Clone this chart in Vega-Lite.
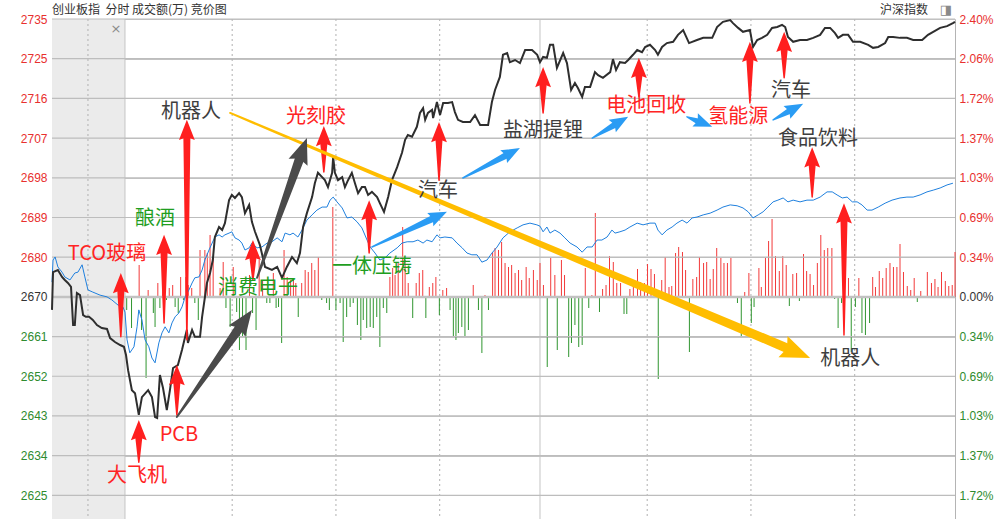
{
"$schema": "https://vega.github.io/schema/vega-lite/v6.json",
"width": 903, "height": 500,
"autosize": {"type": "none"},
"padding": {"left": 52, "top": 19, "right": 50, "bottom": 0},
"background": "#ffffff",
"config": {"view": {"stroke": null}},
"datasets": {
"grid": [{"lv":2624.75,"t":-21.1},{"lv":2624.75,"t":240},{"lv":2633.9,"t":-21.1},{"lv":2633.9,"t":240},{"lv":2643.05,"t":-21.1},{"lv":2643.05,"t":240},{"lv":2652.2,"t":-21.1},{"lv":2652.2,"t":240},{"lv":2661.35,"t":-21.1},{"lv":2661.35,"t":240},{"lv":2679.65,"t":-21.1},{"lv":2679.65,"t":240},{"lv":2688.8,"t":-21.1},{"lv":2688.8,"t":240},{"lv":2697.95,"t":-21.1},{"lv":2697.95,"t":240},{"lv":2707.1,"t":-21.1},{"lv":2707.1,"t":240},{"lv":2716.25,"t":-21.1},{"lv":2716.25,"t":240},{"lv":2725.4,"t":-21.1},{"lv":2725.4,"t":240},{"lv":2734.55,"t":-21.1},{"lv":2734.55,"t":240}],
"times": [{"t":-10.7},{"t":0},{"t":31},{"t":61},{"t":91},{"t":120},{"t":151},{"t":181},{"t":211}],
"black": [
{"t":-21.1,"p":2667.5},{"t":-20.8,"p":2676.2},{"t":-19.4,"p":2676.7},{"t":-18.2,"p":2675.1},{"t":-17.4,"p":2674.4},{"t":-16.5,"p":2673.7},{"t":-15.6,"p":2672.8},{"t":-15.0,"p":2664.0},{"t":-14.5,"p":2664.0},{"t":-13.9,"p":2671.4},{"t":-13.0,"p":2670.9},{"t":-12.1,"p":2666.3},{"t":-11.3,"p":2665.9},{"t":-10.4,"p":2665.9},{"t":-9.3,"p":2665.2},{"t":-8.1,"p":2664.0},{"t":-6.7,"p":2663.3},{"t":-5.2,"p":2663.1},{"t":-4.3,"p":2661.0},{"t":-2.9,"p":2660.1},{"t":-1.4,"p":2659.4},{"t":-0.3,"p":2659.0},{"t":0.3,"p":2657.1},{"t":0.9,"p":2653.6},{"t":2.0,"p":2649.0},{"t":2.9,"p":2648.3},{"t":4.0,"p":2643.3},{"t":4.9,"p":2647.4},{"t":6.7,"p":2649.0},{"t":7.8,"p":2647.4},{"t":8.7,"p":2642.8},{"t":9.3,"p":2642.6},{"t":10.1,"p":2652.5},{"t":11.0,"p":2649.5},{"t":12.1,"p":2644.4},{"t":13.0,"p":2649.0},{"t":13.9,"p":2654.1},{"t":15.3,"p":2654.8},{"t":16.5,"p":2658.3},{"t":17.4,"p":2661.3},{"t":17.9,"p":2662.9},{"t":18.2,"p":2659.9},{"t":19.4,"p":2662.9},{"t":20.2,"p":2661.3},{"t":21.7,"p":2661.3},{"t":22.3,"p":2665.9},{"t":23.7,"p":2673.7},{"t":24.6,"p":2676.0},{"t":25.4,"p":2679.0},{"t":26.0,"p":2684.3},{"t":27.2,"p":2686.6},{"t":28.1,"p":2685.9},{"t":28.9,"p":2687.5},{"t":30.1,"p":2692.8},{"t":30.9,"p":2694.0},{"t":31.8,"p":2693.3},{"t":33.0,"p":2694.4},{"t":33.8,"p":2693.5},{"t":34.7,"p":2689.8},{"t":35.9,"p":2691.7},{"t":36.7,"p":2687.8},{"t":37.6,"p":2685.5},{"t":39.0,"p":2682.5},{"t":40.5,"p":2677.4},{"t":42.5,"p":2676.7},{"t":44.0,"p":2677.4},{"t":45.4,"p":2674.9},{"t":46.8,"p":2677.4},{"t":48.3,"p":2679.7},{"t":49.7,"p":2678.3},{"t":50.6,"p":2680.6},{"t":51.5,"p":2686.6},{"t":52.6,"p":2689.8},{"t":54.1,"p":2693.5},{"t":54.9,"p":2696.7},{"t":55.8,"p":2699.1},{"t":57.0,"p":2698.1},{"t":57.8,"p":2697.4},{"t":58.7,"p":2695.8},{"t":59.9,"p":2699.1},{"t":60.2,"p":2702.7},{"t":60.7,"p":2699.1},{"t":61.6,"p":2697.4},{"t":62.8,"p":2698.1},{"t":63.6,"p":2695.8},{"t":64.5,"p":2697.4},{"t":65.6,"p":2699.1},{"t":66.5,"p":2696.7},{"t":67.4,"p":2694.4},{"t":68.5,"p":2695.8},{"t":69.4,"p":2695.8},{"t":70.3,"p":2694.0},{"t":71.4,"p":2694.7},{"t":72.9,"p":2693.5},{"t":73.7,"p":2692.1},{"t":74.9,"p":2690.1},{"t":76.1,"p":2693.5},{"t":77.2,"p":2697.4},{"t":78.7,"p":2700.4},{"t":80.1,"p":2703.7},{"t":81.0,"p":2706.7},{"t":81.8,"p":2707.8},{"t":83.0,"p":2707.4},{"t":84.4,"p":2709.7},{"t":85.3,"p":2712.9},{"t":86.2,"p":2714.0},{"t":86.8,"p":2711.3},{"t":87.6,"p":2712.9},{"t":88.8,"p":2713.6},{"t":89.1,"p":2711.7},{"t":90.2,"p":2715.4},{"t":91.1,"p":2712.4},{"t":92.0,"p":2715.2},{"t":93.4,"p":2715.2},{"t":94.6,"p":2715.4},{"t":95.4,"p":2713.1},{"t":96.3,"p":2711.3},{"t":97.7,"p":2710.8},{"t":99.8,"p":2710.8},{"t":101.2,"p":2712.4},{"t":102.7,"p":2710.1},{"t":105.0,"p":2710.1},{"t":106.1,"p":2715.4},{"t":107.0,"p":2718.2},{"t":108.4,"p":2721.2},{"t":109.3,"p":2726.3},{"t":110.5,"p":2726.7},{"t":111.3,"p":2724.6},{"t":112.8,"p":2725.1},{"t":114.2,"p":2724.4},{"t":115.7,"p":2727.4},{"t":117.7,"p":2727.4},{"t":119.2,"p":2726.3},{"t":120.0,"p":2724.6},{"t":120.9,"p":2725.8},{"t":122.0,"p":2725.6},{"t":122.9,"p":2728.6},{"t":123.8,"p":2728.6},{"t":124.9,"p":2723.3},{"t":126.7,"p":2726.7},{"t":127.8,"p":2724.4},{"t":129.0,"p":2718.2},{"t":130.1,"p":2719.8},{"t":131.0,"p":2718.6},{"t":132.2,"p":2716.6},{"t":133.0,"p":2718.9},{"t":134.5,"p":2718.9},{"t":135.9,"p":2722.3},{"t":136.8,"p":2721.6},{"t":138.2,"p":2721.0},{"t":140.3,"p":2722.3},{"t":141.1,"p":2725.3},{"t":142.0,"p":2722.8},{"t":143.1,"p":2724.6},{"t":144.6,"p":2724.4},{"t":145.5,"p":2725.1},{"t":146.9,"p":2726.3},{"t":148.1,"p":2727.4},{"t":149.5,"p":2726.9},{"t":150.4,"p":2728.1},{"t":151.8,"p":2728.6},{"t":153.3,"p":2727.4},{"t":154.1,"p":2726.3},{"t":155.3,"p":2728.1},{"t":156.7,"p":2729.0},{"t":158.5,"p":2729.3},{"t":159.9,"p":2730.9},{"t":161.4,"p":2732.0},{"t":163.1,"p":2729.0},{"t":165.4,"p":2729.7},{"t":167.2,"p":2730.2},{"t":169.8,"p":2730.2},{"t":171.2,"p":2732.7},{"t":172.9,"p":2733.9},{"t":175.0,"p":2734.3},{"t":175.8,"p":2733.6},{"t":177.3,"p":2732.5},{"t":178.7,"p":2731.6},{"t":180.7,"p":2732.0},{"t":181.6,"p":2728.1},{"t":182.8,"p":2729.7},{"t":184.2,"p":2730.2},{"t":185.7,"p":2730.9},{"t":187.1,"p":2732.5},{"t":188.6,"p":2732.7},{"t":190.0,"p":2733.2},{"t":190.9,"p":2732.7},{"t":191.7,"p":2730.4},{"t":193.2,"p":2729.3},{"t":195.2,"p":2729.7},{"t":197.2,"p":2729.7},{"t":199.0,"p":2730.2},{"t":201.0,"p":2730.9},{"t":202.4,"p":2732.5},{"t":203.9,"p":2732.5},{"t":205.3,"p":2731.3},{"t":206.2,"p":2730.2},{"t":207.6,"p":2730.9},{"t":209.1,"p":2730.9},{"t":210.5,"p":2729.3},{"t":212.6,"p":2729.3},{"t":214.9,"p":2728.6},{"t":216.3,"p":2727.9},{"t":217.8,"p":2728.1},{"t":219.8,"p":2729.0},{"t":220.7,"p":2730.4},{"t":222.1,"p":2730.4},{"t":224.1,"p":2730.2},{"t":226.1,"p":2730.2},{"t":227.9,"p":2729.7},{"t":230.5,"p":2729.7},{"t":232.2,"p":2730.9},{"t":233.7,"p":2731.6},{"t":235.7,"p":2732.5},{"t":237.7,"p":2732.9},{"t":239.4,"p":2733.6},{"t":240.0,"p":2733.9}
],
"blue": [
{"t":-21.1,"p":2673.9},{"t":-20.8,"p":2679.0},{"t":-20.2,"p":2679.7},{"t":-19.4,"p":2677.4},{"t":-18.2,"p":2676.2},{"t":-17.4,"p":2675.1},{"t":-15.9,"p":2674.4},{"t":-14.5,"p":2676.0},{"t":-13.6,"p":2676.2},{"t":-12.4,"p":2677.9},{"t":-11.6,"p":2675.1},{"t":-10.7,"p":2672.1},{"t":-9.3,"p":2671.6},{"t":-7.2,"p":2670.9},{"t":-5.2,"p":2670.5},{"t":-3.8,"p":2669.8},{"t":-2.0,"p":2668.6},{"t":-0.6,"p":2668.2},{"t":0.0,"p":2667.0},{"t":0.6,"p":2660.6},{"t":1.4,"p":2657.6},{"t":2.6,"p":2659.0},{"t":3.5,"p":2663.6},{"t":4.0,"p":2667.5},{"t":4.9,"p":2665.2},{"t":5.8,"p":2660.6},{"t":6.9,"p":2659.0},{"t":7.8,"p":2656.4},{"t":8.7,"p":2655.3},{"t":9.8,"p":2659.9},{"t":10.7,"p":2662.2},{"t":11.6,"p":2663.6},{"t":12.7,"p":2662.2},{"t":13.6,"p":2664.5},{"t":14.5,"p":2665.9},{"t":15.6,"p":2666.8},{"t":16.5,"p":2668.2},{"t":17.4,"p":2670.5},{"t":18.5,"p":2672.1},{"t":19.4,"p":2673.7},{"t":20.2,"p":2674.9},{"t":21.4,"p":2675.1},{"t":22.3,"p":2676.7},{"t":23.1,"p":2679.0},{"t":24.3,"p":2681.3},{"t":25.2,"p":2682.9},{"t":26.0,"p":2684.3},{"t":27.2,"p":2684.8},{"t":28.1,"p":2684.3},{"t":28.9,"p":2684.8},{"t":30.1,"p":2685.2},{"t":30.9,"p":2685.5},{"t":31.8,"p":2684.1},{"t":33.0,"p":2683.6},{"t":33.8,"p":2682.9},{"t":34.7,"p":2681.3},{"t":35.9,"p":2681.8},{"t":36.7,"p":2682.9},{"t":38.2,"p":2681.8},{"t":39.6,"p":2682.0},{"t":41.1,"p":2682.9},{"t":42.5,"p":2683.2},{"t":44.0,"p":2684.1},{"t":45.4,"p":2683.2},{"t":46.3,"p":2685.2},{"t":47.7,"p":2684.8},{"t":48.6,"p":2685.2},{"t":50.0,"p":2684.3},{"t":51.2,"p":2685.9},{"t":52.6,"p":2688.2},{"t":54.1,"p":2689.4},{"t":55.5,"p":2690.5},{"t":57.0,"p":2691.2},{"t":58.4,"p":2691.2},{"t":59.3,"p":2692.8},{"t":60.2,"p":2693.5},{"t":61.3,"p":2692.4},{"t":62.8,"p":2691.0},{"t":64.2,"p":2688.7},{"t":65.6,"p":2688.9},{"t":67.1,"p":2687.8},{"t":68.5,"p":2686.4},{"t":70.0,"p":2683.6},{"t":70.9,"p":2682.0},{"t":72.3,"p":2680.6},{"t":73.7,"p":2679.0},{"t":75.2,"p":2679.5},{"t":76.6,"p":2680.6},{"t":78.7,"p":2681.8},{"t":80.1,"p":2682.9},{"t":81.6,"p":2683.2},{"t":83.3,"p":2683.2},{"t":84.7,"p":2683.6},{"t":86.2,"p":2682.9},{"t":87.3,"p":2683.6},{"t":88.8,"p":2683.2},{"t":90.2,"p":2684.8},{"t":91.1,"p":2684.1},{"t":92.5,"p":2684.3},{"t":94.6,"p":2684.1},{"t":96.0,"p":2682.9},{"t":97.5,"p":2681.8},{"t":98.9,"p":2680.6},{"t":100.3,"p":2680.2},{"t":101.8,"p":2680.2},{"t":103.2,"p":2678.5},{"t":104.7,"p":2679.0},{"t":106.1,"p":2680.6},{"t":107.6,"p":2682.0},{"t":109.3,"p":2684.1},{"t":111.3,"p":2685.5},{"t":113.4,"p":2686.4},{"t":115.1,"p":2687.1},{"t":117.1,"p":2687.5},{"t":119.1,"p":2687.1},{"t":120.0,"p":2686.8},{"t":120.9,"p":2685.5},{"t":122.0,"p":2686.6},{"t":122.9,"p":2685.2},{"t":124.3,"p":2685.9},{"t":125.8,"p":2685.2},{"t":127.2,"p":2684.1},{"t":128.7,"p":2682.9},{"t":130.7,"p":2682.0},{"t":132.2,"p":2680.8},{"t":133.6,"p":2682.0},{"t":135.1,"p":2682.0},{"t":136.5,"p":2683.6},{"t":137.9,"p":2683.6},{"t":139.4,"p":2684.3},{"t":140.8,"p":2685.9},{"t":141.7,"p":2685.2},{"t":143.1,"p":2685.5},{"t":144.6,"p":2685.9},{"t":146.0,"p":2686.6},{"t":148.1,"p":2687.5},{"t":149.8,"p":2687.1},{"t":151.8,"p":2687.5},{"t":153.3,"p":2687.5},{"t":154.1,"p":2685.9},{"t":155.3,"p":2684.8},{"t":156.7,"p":2685.9},{"t":158.2,"p":2686.6},{"t":159.6,"p":2687.5},{"t":161.1,"p":2688.2},{"t":162.5,"p":2687.5},{"t":164.0,"p":2688.7},{"t":165.4,"p":2688.9},{"t":167.2,"p":2689.4},{"t":169.2,"p":2689.8},{"t":171.2,"p":2690.5},{"t":172.9,"p":2691.2},{"t":175.0,"p":2691.7},{"t":177.0,"p":2691.5},{"t":178.7,"p":2691.0},{"t":180.2,"p":2690.1},{"t":181.6,"p":2688.7},{"t":183.1,"p":2689.4},{"t":184.5,"p":2690.1},{"t":185.9,"p":2691.2},{"t":187.4,"p":2692.4},{"t":188.8,"p":2692.8},{"t":190.3,"p":2693.3},{"t":191.7,"p":2692.4},{"t":193.2,"p":2692.8},{"t":195.2,"p":2692.4},{"t":197.2,"p":2692.8},{"t":199.0,"p":2692.8},{"t":201.0,"p":2693.5},{"t":203.0,"p":2694.7},{"t":204.5,"p":2694.7},{"t":205.9,"p":2694.0},{"t":207.4,"p":2693.3},{"t":208.8,"p":2693.5},{"t":210.3,"p":2692.4},{"t":211.7,"p":2692.4},{"t":213.1,"p":2691.7},{"t":214.6,"p":2690.5},{"t":216.0,"p":2690.5},{"t":217.8,"p":2691.2},{"t":219.8,"p":2692.1},{"t":221.8,"p":2692.8},{"t":224.1,"p":2693.3},{"t":226.1,"p":2693.5},{"t":227.9,"p":2693.5},{"t":229.9,"p":2694.0},{"t":231.9,"p":2694.7},{"t":233.7,"p":2695.1},{"t":235.7,"p":2695.6},{"t":237.7,"p":2696.3},{"t":239.4,"p":2696.7}
],
"bars": [
{"t":0.5,"amt":-13},{"t":1.9,"amt":-31},{"t":4.1,"amt":32},{"t":4.8,"amt":-33},{"t":6.1,"amt":-81},{"t":6.7,"amt":7},{"t":8.2,"amt":-16},{"t":8.7,"amt":-30},{"t":9.5,"amt":14},{"t":10.1,"amt":-11},{"t":10.9,"amt":27},{"t":12.0,"amt":-3},{"t":12.8,"amt":9},{"t":13.8,"amt":12},{"t":14.5,"amt":-10},{"t":15.4,"amt":-16},{"t":16.1,"amt":20},{"t":16.9,"amt":-3},{"t":17.6,"amt":20},{"t":18.3,"amt":12},{"t":19.3,"amt":9},{"t":20.2,"amt":-6},{"t":21.2,"amt":-23},{"t":21.7,"amt":47},{"t":23.1,"amt":47},{"t":23.8,"amt":44},{"t":24.6,"amt":62},{"t":25.5,"amt":39},{"t":27.5,"amt":9},{"t":28.4,"amt":35},{"t":29.2,"amt":-11},{"t":30.4,"amt":-30},{"t":31.3,"amt":30},{"t":32.3,"amt":-15},{"t":33.1,"amt":-53},{"t":34.0,"amt":-40},{"t":35.0,"amt":-53},{"t":36.0,"amt":22},{"t":36.9,"amt":-16},{"t":37.9,"amt":-33},{"t":38.8,"amt":37},{"t":39.8,"amt":17},{"t":41.0,"amt":-6},{"t":41.9,"amt":-6},{"t":42.9,"amt":24},{"t":43.7,"amt":-11},{"t":44.4,"amt":-10},{"t":45.3,"amt":-46},{"t":46.0,"amt":47},{"t":46.9,"amt":20},{"t":47.9,"amt":17},{"t":48.7,"amt":17},{"t":49.4,"amt":14},{"t":50.1,"amt":-20},{"t":51.1,"amt":14},{"t":52.1,"amt":27},{"t":53.0,"amt":25},{"t":54.0,"amt":34},{"t":54.9,"amt":27},{"t":55.9,"amt":40},{"t":56.9,"amt":-3},{"t":58.3,"amt":-6},{"t":59.1,"amt":-13},{"t":60.1,"amt":90},{"t":61.0,"amt":-13},{"t":62.2,"amt":-6},{"t":63.1,"amt":-45},{"t":64.1,"amt":-20},{"t":65.1,"amt":-10},{"t":66.0,"amt":-6},{"t":67.2,"amt":-28},{"t":68.2,"amt":-43},{"t":68.9,"amt":-23},{"t":69.9,"amt":-31},{"t":70.9,"amt":-30},{"t":71.8,"amt":-31},{"t":72.8,"amt":-20},{"t":73.7,"amt":-50},{"t":74.7,"amt":-11},{"t":75.7,"amt":-16},{"t":76.6,"amt":20},{"t":77.4,"amt":29},{"t":78.1,"amt":22},{"t":79.0,"amt":34},{"t":80.3,"amt":70},{"t":81.0,"amt":37},{"t":81.9,"amt":14},{"t":83.2,"amt":-21},{"t":84.2,"amt":14},{"t":85.1,"amt":24},{"t":86.1,"amt":27},{"t":87.0,"amt":-21},{"t":88.0,"amt":10},{"t":89.0,"amt":14},{"t":89.9,"amt":20},{"t":90.9,"amt":-18},{"t":91.9,"amt":7},{"t":93.0,"amt":9},{"t":94.0,"amt":-13},{"t":94.95,"amt":-40},{"t":95.7,"amt":-43},{"t":96.4,"amt":-36},{"t":97.4,"amt":-30},{"t":98.3,"amt":-40},{"t":99.3,"amt":-33},{"t":100.7,"amt":12},{"t":102.2,"amt":-13},{"t":103.2,"amt":-56},{"t":104.1,"amt":2},{"t":105.1,"amt":-13},{"t":106.3,"amt":45},{"t":107.0,"amt":49},{"t":108.0,"amt":47},{"t":108.9,"amt":55},{"t":109.9,"amt":34},{"t":110.9,"amt":30},{"t":111.8,"amt":32},{"t":112.8,"amt":24},{"t":113.8,"amt":27},{"t":114.7,"amt":17},{"t":116.0,"amt":30},{"t":116.9,"amt":19},{"t":118.1,"amt":27},{"t":119.2,"amt":17},{"t":120.0,"amt":34},{"t":121.0,"amt":12},{"t":122.1,"amt":-70},{"t":123.1,"amt":39},{"t":124.3,"amt":22},{"t":125.0,"amt":-53},{"t":126.2,"amt":37},{"t":127.1,"amt":22},{"t":128.3,"amt":-60},{"t":129.1,"amt":-46},{"t":130.1,"amt":-28},{"t":131.2,"amt":-50},{"t":132.2,"amt":-48},{"t":133.1,"amt":29},{"t":134.1,"amt":-11},{"t":135.0,"amt":2},{"t":136.0,"amt":84},{"t":137.2,"amt":-15},{"t":138.1,"amt":8},{"t":139.1,"amt":12},{"t":140.1,"amt":41},{"t":141.2,"amt":35},{"t":142.2,"amt":14},{"t":143.3,"amt":14},{"t":144.3,"amt":-17},{"t":145.1,"amt":-17},{"t":146.0,"amt":8},{"t":147.0,"amt":14},{"t":148.2,"amt":28},{"t":149.1,"amt":15},{"t":150.2,"amt":14},{"t":151.1,"amt":33},{"t":152.1,"amt":28},{"t":153.1,"amt":23},{"t":154.2,"amt":-82},{"t":155.2,"amt":17},{"t":156.2,"amt":40},{"t":157.3,"amt":10},{"t":158.1,"amt":11},{"t":159.2,"amt":44},{"t":160.1,"amt":50},{"t":161.2,"amt":45},{"t":162.1,"amt":27},{"t":163.2,"amt":-55},{"t":164.2,"amt":18},{"t":165.3,"amt":20},{"t":166.1,"amt":40},{"t":167.3,"amt":34},{"t":168.2,"amt":35},{"t":169.2,"amt":18},{"t":170.1,"amt":28},{"t":171.1,"amt":49},{"t":172.3,"amt":39},{"t":173.2,"amt":34},{"t":174.2,"amt":34},{"t":175.2,"amt":39},{"t":176.1,"amt":1},{"t":177.1,"amt":-6},{"t":178.2,"amt":-39},{"t":179.2,"amt":5},{"t":180.4,"amt":24},{"t":181.1,"amt":-26},{"t":181.9,"amt":-10},{"t":183.3,"amt":29},{"t":184.0,"amt":10},{"t":185.2,"amt":39},{"t":186.1,"amt":56},{"t":187.1,"amt":78},{"t":188.1,"amt":41},{"t":189.2,"amt":26},{"t":190.2,"amt":41},{"t":191.2,"amt":32},{"t":192.1,"amt":-9},{"t":193.1,"amt":23},{"t":194.2,"amt":24},{"t":195.0,"amt":-4},{"t":196.2,"amt":43},{"t":197.1,"amt":26},{"t":198.1,"amt":23},{"t":199.1,"amt":12},{"t":200.2,"amt":34},{"t":201.2,"amt":62},{"t":202.2,"amt":47},{"t":203.2,"amt":49},{"t":204.4,"amt":49},{"t":205.2,"amt":-2},{"t":206.2,"amt":-31},{"t":207.2,"amt":-6},{"t":208.1,"amt":30},{"t":209.2,"amt":19},{"t":210.0,"amt":-55},{"t":211.2,"amt":-10},{"t":212.2,"amt":19},{"t":213.1,"amt":-36},{"t":214.1,"amt":-38},{"t":215.3,"amt":-26},{"t":216.2,"amt":20},{"t":217.0,"amt":10},{"t":218.1,"amt":26},{"t":219.1,"amt":19},{"t":220.1,"amt":29},{"t":221.2,"amt":34},{"t":222.2,"amt":30},{"t":223.2,"amt":30},{"t":224.1,"amt":53},{"t":225.1,"amt":25},{"t":226.2,"amt":11},{"t":227.2,"amt":7},{"t":228.2,"amt":19},{"t":229.1,"amt":-5},{"t":230.1,"amt":6},{"t":232.0,"amt":25},{"t":233.2,"amt":14},{"t":234.2,"amt":18},{"t":235.1,"amt":10},{"t":236.1,"amt":25},{"t":237.2,"amt":16},{"t":238.2,"amt":11},{"t":239.2,"amt":12},{"t":240.0,"amt":45}
],
"arrows": [
{"id":"r1","kind":"red","end":"tail","t":-1.2,"p":2661.3},{"id":"r1","kind":"red","end":"neck","t":-1.2,"p":2671.9},{"id":"r1","kind":"red","end":"tip","t":-1.2,"p":2676.0},
{"id":"r2","kind":"red","end":"tail","t":11.3,"p":2664.5},{"id":"r2","kind":"red","end":"neck","t":11.3,"p":2680.6},{"id":"r2","kind":"red","end":"tip","t":11.3,"p":2684.8},
{"id":"r3","kind":"red","end":"tail","t":17.9,"p":2660.6},{"id":"r3","kind":"red","end":"neck","t":17.9,"p":2707.1},{"id":"r3","kind":"red","end":"tip","t":17.9,"p":2711.3},
{"id":"r4","kind":"red","end":"tail","t":4.0,"p":2632.4},{"id":"r4","kind":"red","end":"neck","t":4.0,"p":2638.0},{"id":"r4","kind":"red","end":"tip","t":4.0,"p":2642.1},
{"id":"r5","kind":"red","end":"tail","t":15.0,"p":2643.3},{"id":"r5","kind":"red","end":"neck","t":15.0,"p":2650.6},{"id":"r5","kind":"red","end":"tip","t":15.0,"p":2654.8},
{"id":"r6","kind":"red","end":"tail","t":37.0,"p":2674.4},{"id":"r6","kind":"red","end":"neck","t":37.0,"p":2679.5},{"id":"r6","kind":"red","end":"tip","t":37.0,"p":2683.6},
{"id":"r7","kind":"red","end":"tail","t":57.5,"p":2699.3},{"id":"r7","kind":"red","end":"neck","t":57.5,"p":2705.7},{"id":"r7","kind":"red","end":"tip","t":57.5,"p":2709.9},
{"id":"r8","kind":"red","end":"tail","t":70.6,"p":2680.6},{"id":"r8","kind":"red","end":"neck","t":70.6,"p":2688.7},{"id":"r8","kind":"red","end":"tip","t":70.6,"p":2692.8},
{"id":"r9","kind":"red","end":"tail","t":90.8,"p":2697.4},{"id":"r9","kind":"red","end":"neck","t":90.8,"p":2706.7},{"id":"r9","kind":"red","end":"tip","t":90.8,"p":2710.8},
{"id":"r10","kind":"red","end":"tail","t":120.9,"p":2712.9},{"id":"r10","kind":"red","end":"neck","t":120.9,"p":2719.3},{"id":"r10","kind":"red","end":"tip","t":120.9,"p":2723.5},
{"id":"r11","kind":"red","end":"tail","t":148.6,"p":2716.6},{"id":"r11","kind":"red","end":"neck","t":148.6,"p":2721.4},{"id":"r11","kind":"red","end":"tip","t":148.6,"p":2725.6},
{"id":"r12","kind":"red","end":"tail","t":180.7,"p":2715.2},{"id":"r12","kind":"red","end":"neck","t":180.7,"p":2725.1},{"id":"r12","kind":"red","end":"tip","t":180.7,"p":2729.3},
{"id":"r13","kind":"red","end":"tail","t":190.6,"p":2721.0},{"id":"r13","kind":"red","end":"neck","t":190.6,"p":2727.4},{"id":"r13","kind":"red","end":"tip","t":190.6,"p":2731.6},
{"id":"r14","kind":"red","end":"tail","t":198.7,"p":2693.5},{"id":"r14","kind":"red","end":"neck","t":198.7,"p":2700.9},{"id":"r14","kind":"red","end":"tip","t":198.7,"p":2705.0},
{"id":"r15","kind":"red","end":"tail","t":207.9,"p":2661.7},{"id":"r15","kind":"red","end":"neck","t":207.9,"p":2688.0},{"id":"r15","kind":"red","end":"tip","t":207.9,"p":2692.1},
{"id":"b1","kind":"blue","end":"tail","t":71.4,"p":2682.0},{"id":"b1","kind":"blue","end":"neck","t":90.0,"p":2688.9},{"id":"b1","kind":"blue","end":"tip","t":93.1,"p":2690.1},
{"id":"b2","kind":"blue","end":"tail","t":97.7,"p":2697.9},{"id":"b2","kind":"blue","end":"neck","t":111.2,"p":2703.5},{"id":"b2","kind":"blue","end":"tip","t":114.2,"p":2704.8},
{"id":"b3","kind":"blue","end":"tail","t":135.1,"p":2707.1},{"id":"b3","kind":"blue","end":"neck","t":142.5,"p":2710.6},{"id":"b3","kind":"blue","end":"tip","t":145.5,"p":2712.0},
{"id":"b4","kind":"blue","end":"tail","t":162.5,"p":2712.0},{"id":"b4","kind":"blue","end":"neck","t":166.5,"p":2710.7},{"id":"b4","kind":"blue","end":"tip","t":169.8,"p":2709.7},
{"id":"b5","kind":"blue","end":"tail","t":187.4,"p":2711.3},{"id":"b5","kind":"blue","end":"neck","t":193.0,"p":2713.7},{"id":"b5","kind":"blue","end":"tip","t":196.1,"p":2715.0},
{"id":"g1","kind":"gray","end":"tail","t":15.0,"p":2642.8},{"id":"g1","kind":"gray","end":"neck","t":33.4,"p":2663.7},{"id":"g1","kind":"gray","end":"tip","t":36.7,"p":2667.5},
{"id":"g2","kind":"gray","end":"tail","t":38.2,"p":2674.9},{"id":"g2","kind":"gray","end":"neck","t":50.7,"p":2702.8},{"id":"g2","kind":"gray","end":"tip","t":52.6,"p":2707.1},
{"id":"y1","kind":"yellow","end":"tail","t":30.4,"p":2712.9},{"id":"y1","kind":"yellow","end":"neck","t":191.7,"p":2658.6},{"id":"y1","kind":"yellow","end":"tip","t":198.1,"p":2656.4}
],
"notes": [
{"label":"机器人","t":19.1,"p":2713.1,"grp":"dark"},
{"label":"光刻胶","t":55.2,"p":2712.0,"grp":"red"},
{"label":"TCO玻璃","t":-5.2,"p":2680.4,"grp":"red"},
{"label":"酿酒","t":8.7,"p":2688.5,"grp":"green"},
{"label":"消费电子","t":38.5,"p":2672.5,"grp":"green"},
{"label":"一体压铸","t":71.4,"p":2677.4,"grp":"green"},
{"label":"汽车","t":90.5,"p":2694.9,"grp":"dark"},
{"label":"盐湖提锂","t":120.9,"p":2708.7,"grp":"dark"},
{"label":"电池回收","t":150.7,"p":2714.5,"grp":"red"},
{"label":"氢能源","t":177.3,"p":2712.0,"grp":"red"},
{"label":"汽车","t":192.6,"p":2718.0,"grp":"dark"},
{"label":"食品饮料","t":200.4,"p":2706.9,"grp":"dark"},
{"label":"大飞机","t":3.5,"p":2629.2,"grp":"red"},
{"label":"PCB","t":15.6,"p":2638.7,"grp":"red"},
{"label":"机器人","t":209.7,"p":2656.2,"grp":"dark"}
]
},
"resolve": {"scale": {"y": "independent", "color": "independent", "size": "independent"}},
"layer": [
{
"data": {"values": [{}]},
"mark": {"type": "rect", "color": "#ebebeb"},
"encoding": {
"x": {"datum": -21.1, "type": "quantitative", "scale": {"domain": [-21.1, 240], "nice": false, "zero": false}, "axis": null},
"x2": {"datum": 0}
}
},
{
"data": {"name": "times"},
"transform": [{"filter": "datum.t != 0 && datum.t != 120"}],
"mark": {"type": "rule", "color": "#b0b0b0", "strokeWidth": 1, "strokeDash": [2, 3]},
"encoding": {
"x": {"field": "t", "type": "quantitative", "scale": {"domain": [-21.1, 240], "nice": false, "zero": false}, "axis": null}
}
},
{
"data": {"name": "times"},
"transform": [{"filter": "datum.t == 0 || datum.t == 120"}],
"mark": {"type": "rule", "color": "#c4c4c4", "strokeWidth": 1},
"encoding": {
"x": {"field": "t", "type": "quantitative", "scale": {"domain": [-21.1, 240], "nice": false, "zero": false}, "axis": null}
}
},
{
"data": {"name": "bars"},
"mark": {"type": "rule", "strokeWidth": 1},
"encoding": {
"x": {"field": "t", "type": "quantitative", "scale": {"domain": [-21.1, 240], "nice": false, "zero": false}, "axis": null},
"y": {"field": "amt", "type": "quantitative", "scale": {"domain": [-222, 278], "nice": false, "zero": false}, "axis": null},
"y2": {"datum": 0},
"color": {"condition": {"test": "datum.amt > 0", "value": "#f23a3a"}, "value": "#2f952f"}
}
},
{
"data": {"values": [{}]},
"mark": {"type": "rule", "color": "#c2c2c2", "strokeWidth": 2.5},
"encoding": {
"y": {"datum": 0, "type": "quantitative", "scale": {"domain": [-222, 278], "nice": false, "zero": false}, "axis": null}
}
},
{
"data": {"name": "grid"},
"mark": {"type": "line", "color": "#bdbdbd", "strokeWidth": 1.2},
"encoding": {
"x": {"field": "t", "type": "quantitative", "scale": {"domain": [-21.1, 240], "nice": false, "zero": false}, "axis": null},
"y": {"field": "lv", "type": "quantitative", "scale": {"domain": [2619.3, 2734.55], "nice": false, "zero": false}, "axis": null},
"detail": {"field": "lv", "type": "nominal"}
}
},
{
"data": {"name": "blue"},
"mark": {"type": "line", "color": "#1f80de", "strokeWidth": 1},
"encoding": {
"x": {"field": "t", "type": "quantitative", "scale": {"domain": [-21.1, 240], "nice": false, "zero": false}, "axis": null},
"y": {"field": "p", "type": "quantitative", "scale": {"domain": [2619.3, 2734.55], "nice": false, "zero": false},
"axis": {"orient": "right", "values": [2624.75, 2633.9, 2643.05, 2652.2, 2661.35, 2670.5, 2679.65, 2688.8, 2697.95, 2707.1, 2716.25, 2725.4, 2734.55],
"labelExpr": "['1.72%','1.37%','1.03%','0.69%','0.34%','0.00%','0.34%','0.69%','1.03%','1.37%','1.72%','2.06%','2.40%'][round((datum.value-2670.5)/9.15)+5]",
"labelColor": {"condition": [{"test": "datum.value > 2671", "value": "#e8302e"}, {"test": "datum.value < 2670", "value": "#2e8b2e"}], "value": "#333333"},
"labelFont": "Liberation Sans", "labelFontSize": 12, "labelPadding": 4, "labelOverlap": false, "labelBaseline": "middle",
"ticks": false, "grid": true, "gridColor": "#c4c4c4", "gridWidth": 1, "domain": true, "domainColor": "#b4b4b4", "title": null}}
}
},
{
"data": {"name": "black"},
"mark": {"type": "line", "color": "#2e2e2e", "strokeWidth": 2},
"encoding": {
"x": {"field": "t", "type": "quantitative", "scale": {"domain": [-21.1, 240], "nice": false, "zero": false}, "axis": null},
"y": {"field": "p", "type": "quantitative", "scale": {"domain": [2619.3, 2734.55], "nice": false, "zero": false},
"axis": {"orient": "left", "values": [2624.75, 2633.9, 2643.05, 2652.2, 2661.35, 2670.5, 2679.65, 2688.8, 2697.95, 2707.1, 2716.25, 2725.4, 2734.55],
"labelExpr": "['2625','2634','2643','2652','2661','2670','2680','2689','2698','2707','2716','2725','2735'][round((datum.value-2670.5)/9.15)+5]",
"labelColor": {"condition": [{"test": "datum.value > 2671", "value": "#e8302e"}, {"test": "datum.value < 2670", "value": "#2e8b2e"}], "value": "#333333"},
"labelFont": "Liberation Sans", "labelFontSize": 12, "labelPadding": 5, "labelOverlap": false, "labelBaseline": "middle",
"ticks": false, "grid": false, "domain": true, "domainColor": "#b4b4b4", "title": null}}
}
},
{
"data": {"name": "arrows"},
"transform": [{"filter": "datum.end != 'tip' && (datum.kind == 'red' || datum.kind == 'blue')"}],
"mark": {"type": "trail"},
"encoding": {
"x": {"field": "t", "type": "quantitative", "scale": {"domain": [-21.1, 240], "nice": false, "zero": false}, "axis": null},
"y": {"field": "p", "type": "quantitative", "scale": {"domain": [2619.3, 2734.55], "nice": false, "zero": false}, "axis": null},
"detail": {"field": "id"},
"size": {"field": "end", "type": "ordinal", "scale": {"type": "point", "domain": ["tail", "neck"], "range": [1.5, 7], "padding": 0}, "legend": null},
"color": {"field": "kind", "type": "nominal", "scale": {"domain": ["red", "blue", "gray", "yellow"], "range": ["#ff1f1f", "#2a9cf4", "#4a4a4a", "#ffbd00"]}, "legend": null}
}
},
{
"data": {"name": "arrows"},
"transform": [{"filter": "datum.end != 'tip' && (datum.kind == 'gray' || datum.kind == 'yellow')"}],
"mark": {"type": "trail"},
"encoding": {
"x": {"field": "t", "type": "quantitative", "scale": {"domain": [-21.1, 240], "nice": false, "zero": false}, "axis": null},
"y": {"field": "p", "type": "quantitative", "scale": {"domain": [2619.3, 2734.55], "nice": false, "zero": false}, "axis": null},
"detail": {"field": "id"},
"size": {"field": "end", "type": "ordinal", "scale": {"type": "point", "domain": ["tail", "neck"], "range": [2, 9.5], "padding": 0}, "legend": null},
"color": {"field": "kind", "type": "nominal", "scale": {"domain": ["red", "blue", "gray", "yellow"], "range": ["#ff1f1f", "#2a9cf4", "#4a4a4a", "#ffbd00"]}, "legend": null}
}
},
{
"data": {"name": "arrows"},
"transform": [{"filter": "datum.kind == 'red' && datum.end == 'tip'"}],
"mark": {"type": "point", "shape": "M0,0L0.36,0.92L0,0.78L-0.36,0.92Z", "size": 1936, "filled": true, "color": "#ff1f1f", "opacity": 1, "strokeWidth": 0},
"encoding": {
"x": {"field": "t", "type": "quantitative", "scale": {"domain": [-21.1, 240], "nice": false, "zero": false}, "axis": null},
"y": {"field": "p", "type": "quantitative", "scale": {"domain": [2619.3, 2734.55], "nice": false, "zero": false}, "axis": null}
}
},
{
"data": {"name": "arrows"},
"transform": [{"filter": "datum.id == 'b1' && datum.end == 'tip'"}],
"mark": {"type": "point", "shape": "M0,0L0.36,0.92L0,0.78L-0.36,0.92Z", "size": 1600, "angle": 65, "filled": true, "color": "#2a9cf4", "opacity": 1, "strokeWidth": 0},
"encoding": {
"x": {"field": "t", "type": "quantitative", "scale": {"domain": [-21.1, 240], "nice": false, "zero": false}, "axis": null},
"y": {"field": "p", "type": "quantitative", "scale": {"domain": [2619.3, 2734.55], "nice": false, "zero": false}, "axis": null}
}
},
{
"data": {"name": "arrows"},
"transform": [{"filter": "datum.id == 'b2' && datum.end == 'tip'"}],
"mark": {"type": "point", "shape": "M0,0L0.36,0.92L0,0.78L-0.36,0.92Z", "size": 1600, "angle": 62, "filled": true, "color": "#2a9cf4", "opacity": 1, "strokeWidth": 0},
"encoding": {
"x": {"field": "t", "type": "quantitative", "scale": {"domain": [-21.1, 240], "nice": false, "zero": false}, "axis": null},
"y": {"field": "p", "type": "quantitative", "scale": {"domain": [2619.3, 2734.55], "nice": false, "zero": false}, "axis": null}
}
},
{
"data": {"name": "arrows"},
"transform": [{"filter": "datum.id == 'b3' && datum.end == 'tip'"}],
"mark": {"type": "point", "shape": "M0,0L0.36,0.92L0,0.78L-0.36,0.92Z", "size": 1600, "angle": 60, "filled": true, "color": "#2a9cf4", "opacity": 1, "strokeWidth": 0},
"encoding": {
"x": {"field": "t", "type": "quantitative", "scale": {"domain": [-21.1, 240], "nice": false, "zero": false}, "axis": null},
"y": {"field": "p", "type": "quantitative", "scale": {"domain": [2619.3, 2734.55], "nice": false, "zero": false}, "axis": null}
}
},
{
"data": {"name": "arrows"},
"transform": [{"filter": "datum.id == 'b4' && datum.end == 'tip'"}],
"mark": {"type": "point", "shape": "M0,0L0.36,0.92L0,0.78L-0.36,0.92Z", "size": 1600, "angle": 112, "filled": true, "color": "#2a9cf4", "opacity": 1, "strokeWidth": 0},
"encoding": {
"x": {"field": "t", "type": "quantitative", "scale": {"domain": [-21.1, 240], "nice": false, "zero": false}, "axis": null},
"y": {"field": "p", "type": "quantitative", "scale": {"domain": [2619.3, 2734.55], "nice": false, "zero": false}, "axis": null}
}
},
{
"data": {"name": "arrows"},
"transform": [{"filter": "datum.id == 'b5' && datum.end == 'tip'"}],
"mark": {"type": "point", "shape": "M0,0L0.36,0.92L0,0.78L-0.36,0.92Z", "size": 1600, "angle": 62, "filled": true, "color": "#2a9cf4", "opacity": 1, "strokeWidth": 0},
"encoding": {
"x": {"field": "t", "type": "quantitative", "scale": {"domain": [-21.1, 240], "nice": false, "zero": false}, "axis": null},
"y": {"field": "p", "type": "quantitative", "scale": {"domain": [2619.3, 2734.55], "nice": false, "zero": false}, "axis": null}
}
},
{
"data": {"name": "arrows"},
"transform": [{"filter": "datum.id == 'g1' && datum.end == 'tip'"}],
"mark": {"type": "point", "shape": "M0,0L0.36,0.92L0,0.78L-0.36,0.92Z", "size": 3136, "angle": 35, "filled": true, "color": "#4a4a4a", "opacity": 1, "strokeWidth": 0},
"encoding": {
"x": {"field": "t", "type": "quantitative", "scale": {"domain": [-21.1, 240], "nice": false, "zero": false}, "axis": null},
"y": {"field": "p", "type": "quantitative", "scale": {"domain": [2619.3, 2734.55], "nice": false, "zero": false}, "axis": null}
}
},
{
"data": {"name": "arrows"},
"transform": [{"filter": "datum.id == 'g2' && datum.end == 'tip'"}],
"mark": {"type": "point", "shape": "M0,0L0.36,0.92L0,0.78L-0.36,0.92Z", "size": 3136, "angle": 20, "filled": true, "color": "#4a4a4a", "opacity": 1, "strokeWidth": 0},
"encoding": {
"x": {"field": "t", "type": "quantitative", "scale": {"domain": [-21.1, 240], "nice": false, "zero": false}, "axis": null},
"y": {"field": "p", "type": "quantitative", "scale": {"domain": [2619.3, 2734.55], "nice": false, "zero": false}, "axis": null}
}
},
{
"data": {"name": "arrows"},
"transform": [{"filter": "datum.id == 'y1' && datum.end == 'tip'"}],
"mark": {"type": "point", "shape": "M0,0L0.36,0.92L0,0.78L-0.36,0.92Z", "size": 4096, "angle": 113, "filled": true, "color": "#ffbd00", "opacity": 1, "strokeWidth": 0},
"encoding": {
"x": {"field": "t", "type": "quantitative", "scale": {"domain": [-21.1, 240], "nice": false, "zero": false}, "axis": null},
"y": {"field": "p", "type": "quantitative", "scale": {"domain": [2619.3, 2734.55], "nice": false, "zero": false}, "axis": null}
}
},
{
"data": {"name": "notes"},
"mark": {"type": "text", "font": "Noto Sans CJK SC", "fontSize": 20, "align": "center", "baseline": "middle"},
"encoding": {
"x": {"field": "t", "type": "quantitative", "scale": {"domain": [-21.1, 240], "nice": false, "zero": false}, "axis": null},
"y": {"field": "p", "type": "quantitative", "scale": {"domain": [2619.3, 2734.55], "nice": false, "zero": false}, "axis": null},
"text": {"field": "label"},
"color": {"field": "grp", "type": "nominal", "scale": {"domain": ["red", "green", "dark"], "range": ["#ff2424", "#1f9e1f", "#3e3e3e"]}, "legend": null}
}
},
{
"data": {"values": [{"label": "创业板指\u00a0\u00a0分时 成交额(万) 竞价图", "t": -21.1, "p": 2736.6}]},
"mark": {"type": "text", "font": "Noto Sans CJK SC", "fontSize": 12, "align": "left", "baseline": "middle", "color": "#333333"},
"encoding": {
"x": {"field": "t", "type": "quantitative", "scale": {"domain": [-21.1, 240], "nice": false, "zero": false}, "axis": null},
"y": {"field": "p", "type": "quantitative", "scale": {"domain": [2619.3, 2734.55], "nice": false, "zero": false}, "axis": null},
"text": {"field": "label"}
}
},
{
"data": {"values": [{"label": "沪深指数", "t": 232.2, "p": 2736.6}]},
"mark": {"type": "text", "font": "Noto Sans CJK SC", "fontSize": 12, "align": "right", "baseline": "middle", "color": "#333333"},
"encoding": {
"x": {"field": "t", "type": "quantitative", "scale": {"domain": [-21.1, 240], "nice": false, "zero": false}, "axis": null},
"y": {"field": "p", "type": "quantitative", "scale": {"domain": [2619.3, 2734.55], "nice": false, "zero": false}, "axis": null},
"text": {"field": "label"}
}
},
{
"data": {"values": [{"label": "◨", "t": 237.4, "p": 2736.6}, {"label": "×", "t": -2.6, "p": 2732.2}]},
"mark": {"type": "text", "font": "DejaVu Sans", "fontSize": 13, "align": "center", "baseline": "middle", "color": "#8a8a8a"},
"encoding": {
"x": {"field": "t", "type": "quantitative", "scale": {"domain": [-21.1, 240], "nice": false, "zero": false}, "axis": null},
"y": {"field": "p", "type": "quantitative", "scale": {"domain": [2619.3, 2734.55], "nice": false, "zero": false}, "axis": null},
"text": {"field": "label"}
}
}
]
}
